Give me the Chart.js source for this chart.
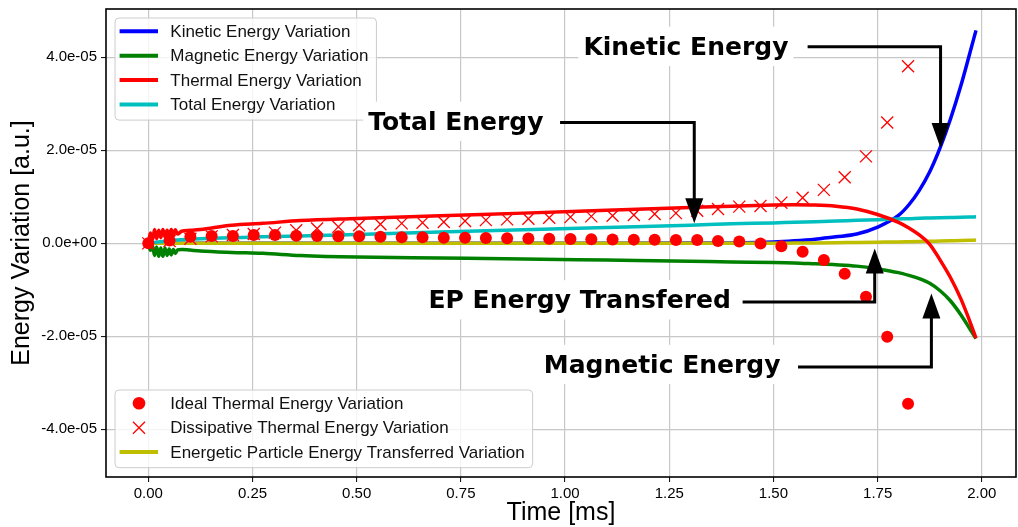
<!DOCTYPE html>
<html>
<head>
<meta charset="utf-8">
<title>Energy Variation</title>
<script src="https://cdn.jsdelivr.net/npm/chart.js@4.4.1/dist/chart.umd.min.js"></script>
<style>
    html, body { margin: 0; padding: 0; background: #fff; }
    #wrap { width: 1018px; height: 527px; }
</style>
</head>
<body>
<div id="wrap"><canvas id="energyChart" width="1018" height="527"></canvas></div>
<script>
// all energy values are in units of 1e-6 (a.u.)
const UNIT = 1e-6;

const lineTime = [0, 0.005, 0.01, 0.015, 0.02, 0.025, 0.03, 0.035, 0.04, 0.045, 0.05, 0.055, 0.06, 0.065, 0.07,
    0.08, 0.1, 0.125, 0.2, 0.275, 0.365, 0.5, 0.7, 0.9, 1.1, 1.3, 1.4,
    1.5, 1.55, 1.6, 1.65, 1.7, 1.75, 1.8, 1.825, 1.85, 1.875, 1.9, 1.925, 1.95, 1.97, 1.986];

const kinetic = [0, 0, 0, 0, 0, 0, 0, 0, 0, 0, 0, 0, 0, 0, 0,
    0, 0, 0, 0, 0, 0, 0, 0, 0, 0, 0.05, 0.1,
    0.3, 0.55, 0.9, 1.4, 2.0, 3.5, 6.0, 8.3, 11.4, 15.4, 20.6, 26.8, 34.0, 40.5, 45.8];

const magnetic = [0, -1.5, -0.5, -2.6, -0.8, -2.8, -1.0, -2.8, -1.0, -2.6, -1.2, -2.5, -1.3, -2.2, -1.4,
    -1.3, -1.45, -1.65, -1.95, -2.15, -2.6, -2.95, -3.15, -3.35, -3.6, -3.85, -4.0,
    -4.1, -4.2, -4.4, -4.6, -4.9, -5.5, -6.3, -6.9, -7.6, -8.6, -10.2, -12.4, -15.4, -18.2, -20.5];

const thermal = [0, 2.2, 0.8, 3.0, 1.0, 2.8, 1.2, 3.0, 1.4, 2.8, 1.6, 3.0, 1.8, 2.9, 2.0,
    2.6, 2.8, 3.0, 3.9, 4.3, 4.9, 5.35, 5.95, 6.5, 7.1, 7.7, 8.0,
    8.25, 8.3, 8.25, 8.0, 7.4, 6.2, 4.5, 3.3, 1.8, -0.2, -3.6, -7.4, -12.0, -16.5, -20.4];

const total = [0, 0.1, 0.15, 0.2, 0.25, 0.3, 0.35, 0.4, 0.45, 0.5, 0.55, 0.6, 0.65, 0.7, 0.7,
    0.8, 0.9, 1.0, 1.2, 1.4, 1.6, 1.9, 2.45, 2.9, 3.4, 3.9, 4.2,
    4.4, 4.55, 4.65, 4.8, 4.95, 5.1, 5.25, 5.3, 5.4, 5.45, 5.5, 5.55, 5.6, 5.65, 5.7];

const epTransfer = [0, 0, 0, 0, 0, 0, 0, 0, 0, 0, 0, 0, 0, 0, 0,
    0, 0, 0, 0, 0, 0, 0, 0, 0, 0, 0, 0,
    0, 0.05, 0.1, 0.15, 0.2, 0.25, 0.3, 0.35, 0.4, 0.45, 0.5, 0.55, 0.6, 0.65, 0.7];

const markerTime = [0, 0.051, 0.101, 0.152, 0.203, 0.253, 0.304, 0.355, 0.405, 0.456, 0.506, 0.557, 0.608,
    0.658, 0.709, 0.760, 0.810, 0.861, 0.912, 0.962, 1.013, 1.063, 1.114, 1.165, 1.215, 1.266,
    1.317, 1.367, 1.418, 1.469, 1.519, 1.570, 1.621, 1.671, 1.722, 1.773, 1.823];

const idealThermal = [0, 0.6, 1.4, 1.6, 1.6, 1.8, 1.8, 1.65, 1.6, 1.55, 1.55, 1.4, 1.3,
    1.3, 1.2, 1.2, 1.15, 1.1, 1.05, 1.0, 0.95, 0.9, 0.85, 0.8, 0.75, 0.7,
    0.7, 0.5, 0.4, -0.05, -0.6, -1.8, -3.6, -6.55, -11.5, -20.1, -34.5];

const dissipativeThermal = [0, 0.5, 1.0, 1.5, 1.8, 2.0, 2.3, 2.8, 3.2, 3.55, 3.9, 4.1, 4.3,
    4.45, 4.6, 4.8, 5.0, 5.15, 5.3, 5.5, 5.65, 5.8, 5.95, 6.1, 6.3, 6.5,
    7.0, 7.4, 7.9, 8.05, 8.75, 9.8, 11.5, 14.2, 18.7, 26.0, 38.1];

const seriesNames = [
    'Kinetic Energy Variation',
    'Magnetic Energy Variation',
    'Thermal Energy Variation',
    'Total Energy Variation',
    'Ideal Thermal Energy Variation',
    'Dissipative Thermal Energy Variation',
    'Energetic Particle Energy Transferred Variation'
];

const xTicks = [0, 0.25, 0.5, 0.75, 1.0, 1.25, 1.5, 1.75, 2.0];
const xTickLabels = ['0.00', '0.25', '0.50', '0.75', '1.00', '1.25', '1.50', '1.75', '2.00'];
const yTicks = [-4e-5, -2e-5, 0, 2e-5, 4e-5];
const yTickLabels = ['-4.0e-05', '-2.0e-05', '0.0e+00', '2.0e-05', '4.0e-05'];

// annotation labels: text anchor, arrow start and arrow tip (data coords, y in 1e-6)
const notes = [
    { text: 'Kinetic Energy', x: 1.290, y: 40.5, from: [1.582, 42.3], to: [1.901, 20.5] },
    { text: 'Total Energy', x: 0.738, y: 24.4, from: [0.988, 26.0], to: [1.310, 4.3] },
    { text: 'EP Energy Transfered', x: 1.035, y: -14.0, from: [1.426, -12.6], to: [1.743, -1.1] },
    { text: 'Magnetic Energy', x: 1.233, y: -27.9, from: [1.559, -26.6], to: [1.879, -10.8] }
];

const COLORS = {
    kinetic: '#0000ff',
    magnetic: '#008000',
    thermal: '#ff0000',
    total: '#00bfbf',
    ep: '#bfbf00'
};

const SANS = '"Liberation Sans", Arial, sans-serif';

function points(xs, ys) {
    return xs.map((x, i) => ({ x: x, y: ys[i] * UNIT }));
}

function lineSet(label, values, color, order) {
    return {
        label: label,
        data: points(lineTime, values),
        borderColor: color,
        backgroundColor: color,
        borderWidth: 3.5,
        pointRadius: 0,
        cubicInterpolationMode: 'monotone',
        order: order
    };
}

function roundBox(ctx, x, y, w, h, r) {
    ctx.beginPath();
    ctx.moveTo(x + r, y);
    ctx.lineTo(x + w - r, y);
    ctx.quadraticCurveTo(x + w, y, x + w, y + r);
    ctx.lineTo(x + w, y + h - r);
    ctx.quadraticCurveTo(x + w, y + h, x + w - r, y + h);
    ctx.lineTo(x + r, y + h);
    ctx.quadraticCurveTo(x, y + h, x, y + h - r);
    ctx.lineTo(x, y + r);
    ctx.quadraticCurveTo(x, y, x + r, y);
    ctx.closePath();
}

function drawLegend(ctx, left, top, items) {
    const rowGap = 24.4;
    ctx.font = '17px ' + SANS;
    const textW = Math.max(...items.map(it => ctx.measureText(it.label).width));
    const w = 55.3 + textW + 8;
    const h = items.length * rowGap + 4.5;

    ctx.save();
    roundBox(ctx, left, top, w, h, 4);
    ctx.fillStyle = 'rgba(255,255,255,0.8)';
    ctx.fill();
    ctx.strokeStyle = '#cccccc';
    ctx.lineWidth = 1;
    ctx.stroke();

    items.forEach((it, i) => {
        const cy = top + 13.3 + i * rowGap;
        if (it.kind === 'line') {
            ctx.strokeStyle = it.color;
            ctx.lineWidth = 4;
            ctx.lineCap = 'butt';
            ctx.beginPath();
            ctx.moveTo(left + 4.6, cy);
            ctx.lineTo(left + 43, cy);
            ctx.stroke();
        } else if (it.kind === 'dot') {
            ctx.fillStyle = it.color;
            ctx.beginPath();
            ctx.arc(left + 24, cy, 6.3, 0, Math.PI * 2);
            ctx.fill();
        } else {
            ctx.strokeStyle = it.color;
            ctx.lineWidth = 1.3;
            ctx.beginPath();
            ctx.moveTo(left + 18, cy - 6);
            ctx.lineTo(left + 30, cy + 6);
            ctx.moveTo(left + 18, cy + 6);
            ctx.lineTo(left + 30, cy - 6);
            ctx.stroke();
        }
        ctx.fillStyle = '#111111';
        ctx.textAlign = 'left';
        ctx.textBaseline = 'middle';
        ctx.fillText(it.label, left + 55.3, cy + 1);
    });
    ctx.restore();
}

function drawNote(ctx, xs, ys, note) {
    const size = 25;
    const tx = xs.getPixelForValue(note.x);
    const ty = ys.getPixelForValue(note.y * UNIT);
    ctx.save();
    ctx.font = 'bold ' + size + 'px "DejaVu Sans"';
    const w = ctx.measureText(note.text).width;
    ctx.fillStyle = '#ffffff';
    ctx.fillRect(tx - w / 2 - 5, ty - 0.93 * size - 5, w + 10, 1.17 * size + 10);
    ctx.fillStyle = '#000000';
    ctx.textAlign = 'center';
    ctx.textBaseline = 'alphabetic';
    ctx.fillText(note.text, tx, ty);

    const sx = xs.getPixelForValue(note.from[0]);
    const sy = ys.getPixelForValue(note.from[1] * UNIT);
    const px = xs.getPixelForValue(note.to[0]);
    const py = ys.getPixelForValue(note.to[1] * UNIT);
    const dir = py > sy ? 1 : -1;
    const headLen = 25, headHalf = 9;

    ctx.strokeStyle = '#000000';
    ctx.lineWidth = 3;
    ctx.lineJoin = 'miter';
    ctx.beginPath();
    ctx.moveTo(sx, sy);
    ctx.lineTo(px, sy);
    ctx.lineTo(px, py - dir * (headLen - 2));
    ctx.stroke();

    ctx.fillStyle = '#000000';
    ctx.beginPath();
    ctx.moveTo(px, py);
    ctx.lineTo(px - headHalf, py - dir * headLen);
    ctx.lineTo(px + headHalf, py - dir * headLen);
    ctx.closePath();
    ctx.fill();
    ctx.restore();
}

const overlay = {
    id: 'overlay',
    afterDatasetsDraw(chart) {
        const { ctx, chartArea: a, scales: { x, y } } = chart;

        ctx.save();
        ctx.strokeStyle = '#000000';
        ctx.lineWidth = 1.6;
        ctx.strokeRect(a.left, a.top, a.right - a.left, a.bottom - a.top);
        ctx.restore();

        drawLegend(ctx, a.left + 9, a.top + 9, [
            { label: seriesNames[0], color: COLORS.kinetic, kind: 'line' },
            { label: seriesNames[1], color: COLORS.magnetic, kind: 'line' },
            { label: seriesNames[2], color: COLORS.thermal, kind: 'line' },
            { label: seriesNames[3], color: COLORS.total, kind: 'line' }
        ]);
        drawLegend(ctx, a.left + 9, a.bottom - 87, [
            { label: seriesNames[4], color: COLORS.thermal, kind: 'dot' },
            { label: seriesNames[5], color: COLORS.thermal, kind: 'cross' },
            { label: seriesNames[6], color: COLORS.ep, kind: 'line' }
        ]);

        notes.forEach(n => drawNote(ctx, x, y, n));
    }
};

new Chart(document.getElementById('energyChart'), {
    type: 'line',
    data: {
        datasets: [
            lineSet(seriesNames[0], kinetic, COLORS.kinetic, 6),
            lineSet(seriesNames[1], magnetic, COLORS.magnetic, 7),
            lineSet(seriesNames[2], thermal, COLORS.thermal, 2),
            lineSet(seriesNames[3], total, COLORS.total, 4),
            {
                label: seriesNames[4],
                data: points(markerTime, idealThermal),
                showLine: false,
                pointStyle: 'circle',
                pointRadius: 6,
                pointBorderWidth: 0,
                pointBackgroundColor: COLORS.thermal,
                borderColor: COLORS.thermal,
                order: 1
            },
            {
                label: seriesNames[5],
                data: points(markerTime, dissipativeThermal),
                showLine: false,
                pointStyle: 'crossRot',
                pointRadius: 8.5,
                pointBorderWidth: 1.3,
                pointBorderColor: COLORS.thermal,
                borderColor: COLORS.thermal,
                order: 3
            },
            lineSet(seriesNames[6], epTransfer, COLORS.ep, 5)
        ]
    },
    options: {
        responsive: false,
        animation: false,
        devicePixelRatio: 1,
        layout: { autoPadding: false, padding: { top: 9, right: 2, left: 0, bottom: 0 } },
        plugins: {
            legend: { display: false },
            tooltip: { enabled: false }
        },
        scales: {
            x: {
                type: 'linear',
                min: -0.1015,
                max: 2.082,
                afterBuildTicks: s => { s.ticks = xTicks.map(v => ({ value: v })); },
                afterFit: s => {
                    s.height = 50;
                    s.paddingLeft = 0;
                    s.paddingRight = 0;
                },
                ticks: {
                    includeBounds: false,
                    callback: (v, i) => xTickLabels[i],
                    color: '#000',
                    padding: 3,
                    maxRotation: 0,
                    font: { family: SANS, size: 15 }
                },
                grid: { color: '#c8c8c8', lineWidth: 1.2, tickColor: '#000', tickLength: 5, tickWidth: 1 },
                border: { display: false },
                title: {
                    display: true,
                    text: 'Time [ms]',
                    color: '#000',
                    font: { family: SANS, size: 25, lineHeight: 1 },
                    padding: { top: 0, bottom: 1.5 }
                }
            },
            y: {
                type: 'linear',
                min: -50.25e-6,
                max: 50.4e-6,
                afterBuildTicks: s => { s.ticks = yTicks.map(v => ({ value: v })); },
                afterFit: s => {
                    s.width = 106;
                    s.paddingTop = 0;
                    s.paddingBottom = 0;
                },
                ticks: {
                    includeBounds: false,
                    callback: (v, i) => yTickLabels[i],
                    color: '#000',
                    padding: 4,
                    font: { family: SANS, size: 15 }
                },
                grid: { color: '#c8c8c8', lineWidth: 1.2, tickColor: '#000', tickLength: 5, tickWidth: 1 },
                border: { display: false },
                title: {
                    display: true,
                    text: 'Energy Variation [a.u.]',
                    color: '#000',
                    font: { family: SANS, size: 25, lineHeight: 1 },
                    padding: { top: 9.5, bottom: 0 }
                }
            }
        }
    },
    plugins: [overlay]
});
</script>
</body>
</html>
